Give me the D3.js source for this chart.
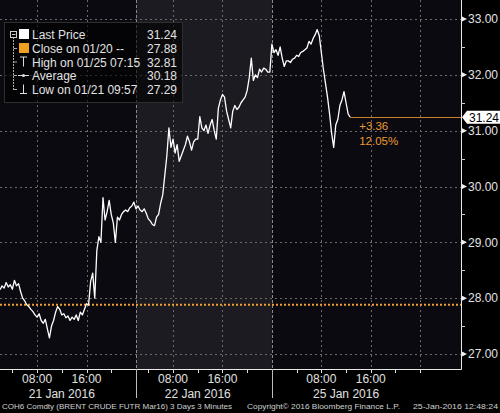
<!DOCTYPE html>
<html><head><meta charset="utf-8">
<script src="https://cdn.jsdelivr.net/npm/d3@7"></script>
<style>html,body{margin:0;padding:0;background:#000;}svg{display:block;}</style>
</head><body><svg id="c" width="500" height="413"></svg>
<script>
// ---------- data ----------
const sessionLabels = ["21 Jan 2016", "22 Jan 2016", "25 Jan 2016"];
const sessionOpenHour = [2, 2, 0];        // clock hour at which each session starts on the axis
const sessionLength = [22, 22, 30.6];     // hours of each session shown on the axis
const stepMinutes = 20;                   // sampling interval of the price series
const pricesDay1 = [28.15,28.22,28.18,28.28,28.2,28.24,28.16,28.32,28.22,28.26,28.12,28.0,27.95,27.88,27.85,27.8,27.76,27.7,27.66,27.72,27.6,27.55,27.62,27.45,27.29,27.5,27.6,27.75,27.85,27.8,27.7,27.72,27.65,27.68,27.6,27.66,27.62,27.7,27.6,27.75,27.7,27.8,27.9,27.88,28.3,28.45,28.0,28.85,29.1,29.0,29.8,29.4,29.55,29.75,29.5,29.35,29.0,29.45,29.4,29.5,29.55,29.58,29.55,29.62,29.65,29.72];
const pricesDay2 = [29.6,29.65,29.58,29.55,29.6,29.52,29.42,29.38,29.32,29.3,29.45,29.5,29.7,29.85,30.2,30.55,31.05,30.7,30.85,30.6,30.75,30.45,30.55,30.65,30.75,30.9,30.8,30.65,30.8,30.85,30.85,31.25,31.05,31.0,31.1,30.95,31.1,31.2,31.0,30.85,31.4,31.55,31.65,31.6,31.35,31.2,31.05,31.35,31.45,31.38,31.42,31.5,31.55,31.6,31.72,31.95,32.3,31.9,32.0,31.95,32.1,32.05,32.12,32.1,32.05,32.05];
const pricesDay3 = [32.55,32.4,32.45,32.35,32.5,32.3,32.15,32.25,32.25,32.22,32.28,32.3,32.35,32.33,32.4,32.42,32.45,32.48,32.6,32.55,32.65,32.72,32.81,32.7,32.4,32.1,31.85,31.6,31.3,30.95,30.7,31.1,31.2,31.45,31.55,31.7,31.5,31.3,31.24];
const yTicks = [27, 28, 29, 30, 31, 32, 33];
const yMinorTicks = [27.5, 28.5, 29.5, 30.5, 31.5, 32.5];
const xLabelHours = [8, 16];
const xTickHours = [[4,8,12,16,20],[4,8,12,16,20],[4,8,12,16,20,24]];
const xGridHours = [[8,16],[8,16],[8,16,24]];
const lastPrice = 31.24;
const prevClose = 27.88;
const legendLabels = ["Last Price", "Close on 01/20 --", "High on 01/25 07:15", "Average", "Low on 01/21 09:57"];
const legendValues = [31.24, 27.88, 32.81, 30.18, 27.29];
const footerTexts = ["COH6 Comdty (BRENT CRUDE FUTR  Mar16) 3 Days 3 Minutes", "Copyright\u00A9 2016 Bloomberg Finance L.P.", "25-Jan-2016 12:48:24"];

// ---------- layout ----------
const W = 500, H = 413;
const plot = {l: 0, t: 0, r: 461, b: 369};
const FONT = "'Liberation Sans', Arial, sans-serif";
const svg = d3.select("#c");

const sessionStart = sessionLength.reduce((a, v, i) => { a.push(i ? a[i-1] + sessionLength[i-1] : 0); return a; }, []);
const totalHours = d3.sum(sessionLength);
const tOf = (s, h) => sessionStart[s] + (h - sessionOpenHour[s]);

const x = d3.scaleLinear().domain([0, totalHours]).range([plot.l, plot.r]);
const y = d3.scaleLinear().domain([27, 33]).range([354, 19]);

const series = [];
[pricesDay1, pricesDay2, pricesDay3].forEach((arr, s) => {
  arr.forEach((p, i) => series.push({t: sessionStart[s] + i * stepMinutes / 60, p}));
});

// background
svg.append("rect").attr("width", W).attr("height", H).attr("fill", "#000");
svg.append("rect").attr("x", plot.l).attr("y", plot.t).attr("width", plot.r - plot.l).attr("height", plot.b - plot.t).attr("fill", "#0b0a10");
svg.append("rect").attr("x", x(sessionStart[1])).attr("y", plot.t).attr("width", x(sessionStart[2]) - x(sessionStart[1])).attr("height", plot.b - plot.t).attr("fill", "#1c1b21");

// grid
const grid = svg.append("g").attr("stroke", "#6a6a6a").attr("stroke-width", 1).attr("stroke-dasharray", "2,3");
grid.selectAll(".hg").data(yTicks).join("line")
  .attr("x1", plot.l).attr("x2", plot.r).attr("y1", d => Math.round(y(d)) + 0.5).attr("y2", d => Math.round(y(d)) + 0.5);
const vg = [];
xGridHours.forEach((hs, s) => hs.forEach(h => vg.push(tOf(s, h))));
grid.selectAll(".vg").data(vg).join("line")
  .attr("y1", plot.t).attr("y2", plot.b).attr("x1", d => Math.round(x(d)) + 0.5).attr("x2", d => Math.round(x(d)) + 0.5);
svg.append("g").attr("stroke", "#8a8a8a").attr("stroke-dasharray", "3,2")
  .selectAll("line").data(sessionStart.slice(1)).join("line")
  .attr("y1", plot.t).attr("y2", plot.b).attr("x1", d => Math.round(x(d)) + 0.5).attr("x2", d => Math.round(x(d)) + 0.5);

// previous close dotted line
svg.append("line").attr("x1", plot.l).attr("x2", plot.r).attr("y1", y(prevClose)).attr("y2", y(prevClose))
  .attr("stroke", "#f0a030").attr("stroke-width", 2).attr("stroke-dasharray", "2,2");

// price line
svg.append("path").datum(series)
  .attr("d", d3.line().x(d => x(d.t)).y(d => y(d.p)))
  .attr("fill", "none").attr("stroke", "#ffffff").attr("stroke-width", 1.3).attr("stroke-linejoin", "round");

// last price line
const lastPt = series[series.length - 1];
svg.append("line").attr("x1", x(lastPt.t)).attr("x2", plot.r).attr("y1", Math.round(y(lastPrice)) + 0.5).attr("y2", Math.round(y(lastPrice)) + 0.5)
  .attr("stroke", "#c8832a").attr("stroke-width", 1.2);

// change annotation
const chg = lastPrice - prevClose;
const ann = svg.append("g").attr("fill", "#e89a35").style("font-family", FONT).style("font-size", "11.5px");
ann.append("text").attr("x", x(lastPt.t) + 9).attr("y", y(lastPrice) + 13).text((chg >= 0 ? "+" : "") + chg.toFixed(2));
ann.append("text").attr("x", x(lastPt.t) + 9).attr("y", y(lastPrice) + 28).text((chg / prevClose * 100).toFixed(2) + "%");

// axes lines
svg.append("line").attr("x1", plot.l).attr("x2", plot.r + 0.5).attr("y1", plot.b + 0.5).attr("y2", plot.b + 0.5).attr("stroke", "#e8e8e8");
svg.append("line").attr("x1", plot.r + 0.5).attr("x2", plot.r + 0.5).attr("y1", plot.t).attr("y2", plot.b + 0.5).attr("stroke", "#e8e8e8");

// right axis
const ra = svg.append("g");
ra.selectAll(".tri").data(yTicks).join("path")
  .attr("d", d => { const yy = y(d); return `M${plot.r + 1},${yy - 2.5}L${plot.r + 6},${yy}L${plot.r + 1},${yy + 2.5}Z`; })
  .attr("fill", "#f0f0f0");
ra.selectAll(".mt").data(yMinorTicks).join("line")
  .attr("x1", plot.r).attr("x2", plot.r + 4).attr("y1", d => Math.round(y(d)) + 0.5).attr("y2", d => Math.round(y(d)) + 0.5).attr("stroke", "#ccc");
ra.selectAll("text").data(yTicks).join("text")
  .attr("x", plot.r + 7).attr("y", d => y(d)).attr("dy", "0.36em")
  .attr("fill", "#e0e0e0").style("font-family", FONT).style("font-size", "12px")
  .text(d => d.toFixed(2));

// last price tag
const ly = y(lastPrice);
svg.append("path").attr("d", `M${plot.r + 1},${ly}L${plot.r + 6},${ly - 6.5}L${W},${ly - 6.5}L${W},${ly + 6.5}L${plot.r + 6},${ly + 6.5}Z`).attr("fill", "#fff");
svg.append("text").attr("x", plot.r + 8).attr("y", ly).attr("dy", "0.36em").attr("fill", "#000")
  .style("font-family", FONT).style("font-size", "12px").text(lastPrice.toFixed(2));

// bottom axis
const ticks = [];
xTickHours.forEach((hs, s) => hs.forEach(h => ticks.push(tOf(s, h))));
svg.append("g").attr("stroke", "#ddd").selectAll("line").data(ticks).join("line")
  .attr("x1", d => Math.round(x(d)) + 0.5).attr("x2", d => Math.round(x(d)) + 0.5).attr("y1", plot.b).attr("y2", plot.b + 4);
svg.append("g").attr("stroke", "#bbb").selectAll("line").data(sessionStart.slice(1)).join("line")
  .attr("x1", d => Math.round(x(d)) + 0.5).attr("x2", d => Math.round(x(d)) + 0.5).attr("y1", plot.b).attr("y2", 398);
const xl = svg.append("g").attr("fill", "#e0e0e0").style("font-family", FONT).style("font-size", "12px").attr("text-anchor", "middle");
sessionLabels.forEach((lab, s) => {
  xLabelHours.forEach(h => {
    xl.append("text").attr("x", x(tOf(s, h))).attr("y", 383).text(String(h).padStart(2, "0") + ":00");
  });
  xl.append("text").attr("x", (x(tOf(s, xLabelHours[0])) + x(tOf(s, xLabelHours[1]))) / 2).attr("y", 398).text(lab);
});

// footer
const ft = svg.append("g").attr("fill", "#d0d0d0").style("font-family", FONT).style("font-size", "8px");
ft.append("text").attr("x", 2).attr("y", 409).attr("textLength", 230).attr("lengthAdjust", "spacingAndGlyphs").text(footerTexts[0]);
ft.append("text").attr("x", 247).attr("y", 409).attr("textLength", 153).attr("lengthAdjust", "spacingAndGlyphs").text(footerTexts[1]);
ft.append("text").attr("x", 413).attr("y", 409).attr("textLength", 85).attr("lengthAdjust", "spacingAndGlyphs").text(footerTexts[2]);

// legend
const lg = svg.append("g");
lg.append("rect").attr("x", 4.5).attr("y", 22.5).attr("width", 178).attr("height", 80).attr("fill", "#000").attr("fill-opacity", 0.6).attr("stroke", "#2e2e2e");
const rowY = [39, 53, 66.5, 80, 94];
lg.append("line").attr("x1", 13.5).attr("x2", 13.5).attr("y1", 37).attr("y2", rowY[4] - 4).attr("stroke", "#aaa").attr("stroke-dasharray", "2,1");
rowY.slice(1).forEach(r => lg.append("line").attr("x1", 13.5).attr("x2", 17).attr("y1", r - 4.5).attr("y2", r - 4.5).attr("stroke", "#aaa"));
lg.append("rect").attr("x", 10.5).attr("y", 31.5).attr("width", 6).attr("height", 6).attr("fill", "#000").attr("stroke", "#ccc");
lg.append("line").attr("x1", 12).attr("x2", 15.5).attr("y1", 34.5).attr("y2", 34.5).attr("stroke", "#ccc");
lg.append("rect").attr("x", 19).attr("y", rowY[0] - 10).attr("width", 10).attr("height", 10).attr("fill", "#fff");
lg.append("rect").attr("x", 19).attr("y", rowY[1] - 10).attr("width", 10).attr("height", 10).attr("fill", "#f0a020");
// high icon (T)
lg.append("path").attr("d", `M20,${rowY[2] - 9.5}H27M23.5,${rowY[2] - 9.5}V${rowY[2]}`).attr("stroke", "#ddd").attr("fill", "none");
// average icon
lg.append("path").attr("d", `M18,${rowY[3] - 4.5}H29`).attr("stroke", "#ddd");
lg.append("circle").attr("cx", 23.5).attr("cy", rowY[3] - 4.5).attr("r", 1.6).attr("fill", "#ddd");
// low icon
lg.append("path").attr("d", `M23.5,${rowY[4] - 9.5}V${rowY[4] - 0.5}M20,${rowY[4] - 0.5}H27`).attr("stroke", "#ddd").attr("fill", "none");
const lt = lg.append("g").attr("fill", "#e2e2e2").style("font-family", FONT).style("font-size", "12px");
legendLabels.forEach((t, i) => {
  lt.append("text").attr("x", 32).attr("y", rowY[i]).text(t);
  lt.append("text").attr("x", 177).attr("y", rowY[i]).attr("text-anchor", "end").text(legendValues[i].toFixed(2));
});
</script></body></html>
